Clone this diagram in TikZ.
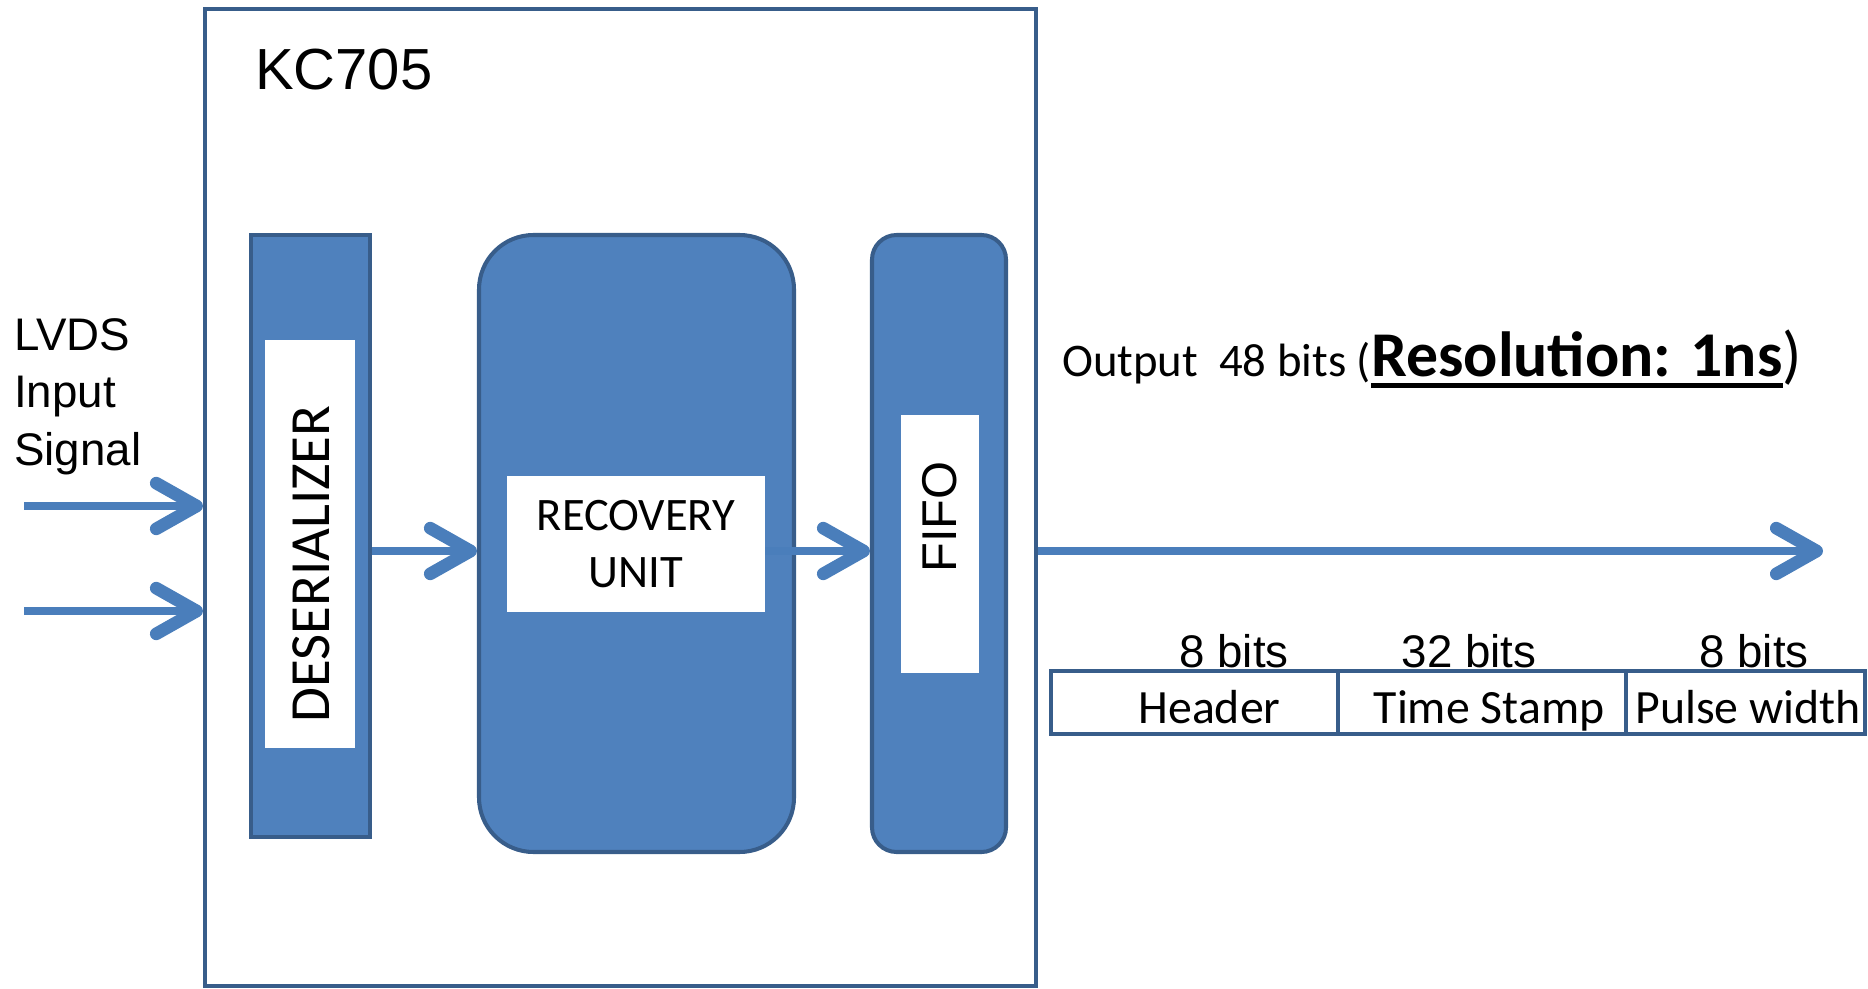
\documentclass[tikz,border=0pt]{standalone}
\usepackage{fontspec}
\setmainfont{Carlito}
\newfontfamily\arialfont{Liberation Sans}
\usetikzlibrary{arrows.meta}

\definecolor{blockfill}{HTML}{4F81BD}
\definecolor{blockline}{HTML}{385D8A}
\definecolor{wireblue}{HTML}{4A7EBB}

% one pixel of the reference
\newdimen\pxu \pxu=0.02cm
% thick underline
\newcommand\resul[1]{\sbox0{#1}\rlap{\rule[-6.2pt]{\wd0}{2.8pt}}\usebox0}

\begin{document}
\begin{tikzpicture}[x=0.02cm, y=-0.02cm,
	block/.style={draw=blockline, fill=blockfill, line width=2.3pt, inner sep=0pt},
	window/.style={fill=white, inner sep=0pt},
	cell/.style={draw=blockline, line width=2.3pt, inner sep=0pt, minimum height=63\pxu,
			font=\fontsize{27.2}{32}\selectfont, text height=24pt, text depth=0pt},
	bits/.style={anchor=base, font=\arialfont\fontsize{26}{30}\selectfont},
	wire/.style={draw=wireblue, line width=5.1pt,
			-{Straight Barb[length=23pt, width=26pt, line width=7.2pt, line cap=round, line join=round]}}]
	\useasboundingbox (0,0) rectangle (1868,989);

	\node[draw=blockline, line width=2.3pt, inner sep=0pt, minimum width=831\pxu,
		minimum height=977\pxu] (board) at (620.5,497.5) {};
	\node[anchor=base west, font=\arialfont\fontsize{33}{40}\selectfont] (boardname) at (249,90) {KC705};

	% base of a multi-line node is its last line
	\node[anchor=base west, align=left, font=\arialfont\fontsize{26}{32.6}\selectfont] (lvds) at (8,465) {LVDS\\Input\\Signal};

	\node[block, minimum width=119\pxu, minimum height=602\pxu] (deser) at (310.5,536) {};
	\node[window, minimum width=90\pxu, minimum height=408\pxu] (deserwin) at (310,544) {};
	\node[rotate=90, font=\fontsize{32.3}{38}\selectfont] (deserlabel) at (311,564) {DESERIALIZER};

	\node[block, rounded corners=31pt, minimum width=315\pxu, minimum height=617\pxu] (recov) at (636.5,543.5) {};
	\node[window, minimum width=258\pxu, minimum height=136\pxu, align=center,
		font=\fontsize{26.5}{32.3}\selectfont] (recovwin) at (636,544) {RECOVERY\\UNIT};

	\node[block, rounded corners=14pt, minimum width=134\pxu, minimum height=617\pxu] (fifo) at (939,543.5) {};
	\node[window, minimum width=78\pxu, minimum height=258\pxu] (fifowin) at (940,544) {};
	\node[rotate=90, font=\arialfont\fontsize{27.8}{33}\selectfont] (fifolabel) at (940,517) {FIFO};

	\coordinate (midline) at (0,551);
	\coordinate (inA) at (24,506);
	\coordinate (inB) at (24,611);
	\coordinate (outend) at (1823,551);

	\draw[wire] (inA) -- (inA -| board.west);
	\draw[wire] (inB) -- (inB -| board.west);
	\draw[wire] (deser.east |- midline) -- (recov.west |- midline);
	\draw[wire] (recovwin.east |- midline) -- (fifo.west |- midline);
	\draw[wire] (board.east |- midline) -- (outend);

	\node[anchor=base west, font=\fontsize{26.6}{32}\selectfont] (outlabel) at (1056,377)
		{Output\ \ 48 bits (\resul{\fontsize{36.3}{40}\selectfont\bfseries Resolution: 1ns}{\fontsize{36.3}{40}\selectfont)}};

	\node[bits] (hdrbits) at (1234,667) {8 bits};
	\node[bits] (stampbits) at (1469,667) {32 bits};
	\node[bits] (widthbits) at (1754,667) {8 bits};

	\node[cell, minimum width=287\pxu] (hdr) at (1194.5,702.5) {\hspace*{30\pxu}Header};
	\node[cell, minimum width=288\pxu] (stamp) at (1482,702.5) {\hspace*{14\pxu}Time Stamp};
	\node[cell, minimum width=239\pxu] (pwidth) at (1745.5,702.5) {\hspace*{5\pxu}Pulse width};
\end{tikzpicture}
\end{document}
